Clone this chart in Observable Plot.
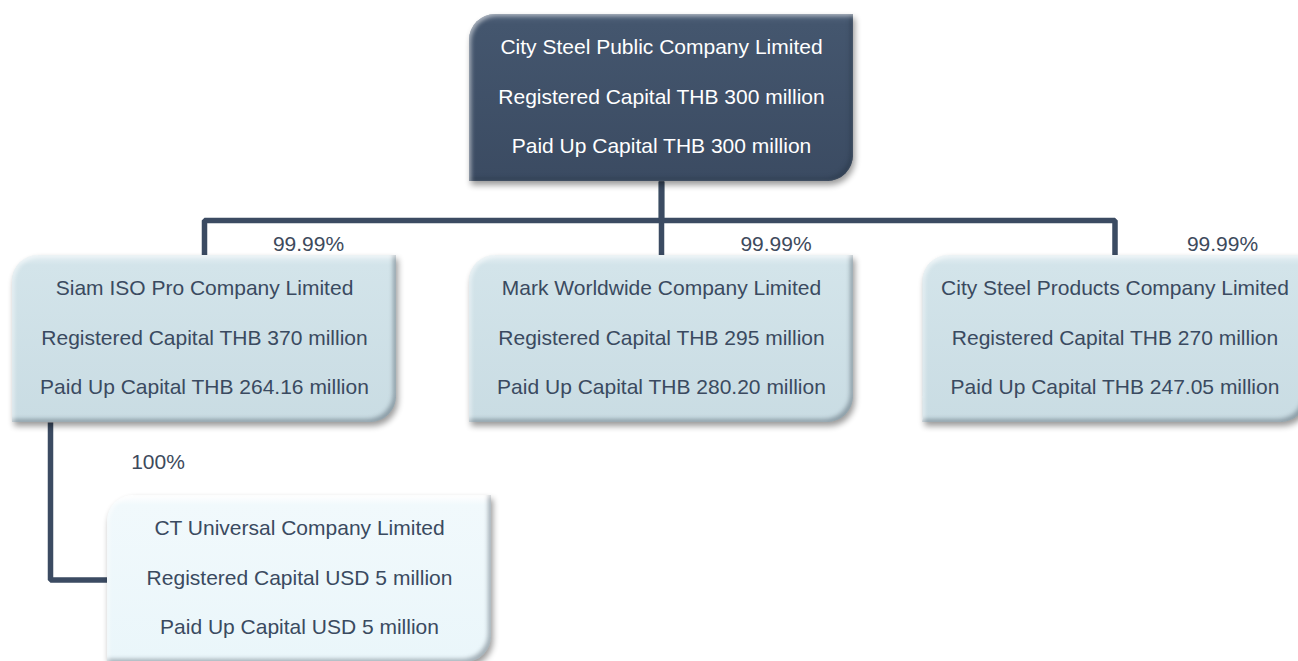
<!DOCTYPE html>
<html><head><meta charset="utf-8">
<script src="https://cdn.jsdelivr.net/npm/d3@7"></script>
<script src="https://cdn.jsdelivr.net/npm/@observablehq/plot@0.6"></script>
<style>html,body{margin:0;padding:0;background:#fff;overflow:hidden}</style>
</head><body><div id="chart"></div>
<script>
// ---- data ----
const companies = ["City Steel Public Company Limited", "Siam ISO Pro Company Limited", "Mark Worldwide Company Limited", "City Steel Products Company Limited", "CT Universal Company Limited"];
const registeredCapital = ["THB 300 million", "THB 370 million", "THB 295 million", "THB 270 million", "USD 5 million"];
const paidUpCapital = ["THB 300 million", "THB 264.16 million", "THB 280.20 million", "THB 247.05 million", "USD 5 million"];
const parentIndex = [null, 0, 0, 0, 1];
const ownership = [null, "99.99%", "99.99%", "99.99%", "100%"];
const tier = [0, 1, 1, 1, 2];

// ---- layout (pixel space) ----
const boxCenterX = [661, 204, 661, 1114.5, 299];
const tierTop = [14, 255, 495];
const boxW = 384, boxH = 167, cornerR = 26;
const busY = 220;            // horizontal connector level for tier 1
const sideX = 50;            // side connector x for tier 2
const labelX = [null, 308, 775.5, 1222, 157.5];
const labelY = [null, 244, 244, 244, 462];
const lineOffsets = [33, 83, 132];

const nodes = companies.map((name, i) => ({
  i, name, tier: tier[i],
  cx: boxCenterX[i],
  x1: boxCenterX[i] - boxW / 2, x2: boxCenterX[i] + boxW / 2,
  y1: tierTop[tier[i]], y2: tierTop[tier[i]] + boxH
}));

// square corners (top-right and bottom-left) -> "round diagonal corner" shape
const corners = nodes.flatMap(n => [
  {tier: n.tier, x1: n.x2 - cornerR, x2: n.x2, y1: n.y1, y2: n.y1 + cornerR},
  {tier: n.tier, x1: n.x1, x2: n.x1 + cornerR, y1: n.y2 - cornerR, y2: n.y2}
]);

const lines = nodes.flatMap(n => [
  {tier: n.tier, x: n.cx, y: n.y1 + lineOffsets[0], text: n.name},
  {tier: n.tier, x: n.cx, y: n.y1 + lineOffsets[1], text: "Registered Capital " + registeredCapital[n.i]},
  {tier: n.tier, x: n.cx, y: n.y1 + lineOffsets[2], text: "Paid Up Capital " + paidUpCapital[n.i]}
]);

const connectors = nodes.filter(n => parentIndex[n.i] !== null).flatMap(n => {
  const p = nodes[parentIndex[n.i]];
  if (n.tier === 1) {
    return [
      {id: n.i, x: p.cx, y: p.y2},
      {id: n.i, x: p.cx, y: busY},
      {id: n.i, x: n.cx, y: busY},
      {id: n.i, x: n.cx, y: n.y1}
    ];
  }
  const ym = (n.y1 + n.y2) / 2 + 1;
  return [
    {id: n.i, x: sideX, y: p.y2},
    {id: n.i, x: sideX, y: ym},
    {id: n.i, x: n.x1, y: ym}
  ];
});

const labels = nodes.filter(n => ownership[n.i] !== null).map(n => ({x: labelX[n.i], y: labelY[n.i], text: ownership[n.i]}));

const font = "Liberation Sans, Arial, Helvetica, sans-serif";
const tierFill = ["url(#g0)", "url(#g1)", "url(#g2)"];
const tierText = ["#ffffff", "#3a4a60", "#3a4a60"];

const marks = [
  Plot.line(connectors, {x: "x", y: "y", z: "id", stroke: "#3b4b62", strokeWidth: 5.5, strokeLinejoin: "miter", strokeLinecap: "butt", curve: "linear"})
];
for (let t = 0; t < 3; t++) {
  marks.push(Plot.rect(nodes.filter(n => n.tier === t), {x1: "x1", x2: "x2", y1: "y1", y2: "y2", rx: cornerR, fill: tierFill[t], ariaDescription: "box"}));
  marks.push(Plot.rect(corners.filter(c => c.tier === t), {x1: "x1", x2: "x2", y1: "y1", y2: "y2", fill: tierFill[t], ariaDescription: "box"}));
}
for (let t = 0; t < 3; t++) {
  marks.push(Plot.text(lines.filter(l => l.tier === t), {x: "x", y: "y", text: "text", fill: tierText[t], fontSize: 21, textAnchor: "middle", lineAnchor: "middle", fontFamily: font}));
}
marks.push(Plot.text(labels, {x: "x", y: "y", text: "text", fill: "#3d4a5c", fontSize: 21, textAnchor: "middle", lineAnchor: "middle", fontFamily: font}));

const svg = Plot.plot({
  width: 1298, height: 661,
  margin: 0,
  x: {domain: [0, 1298], range: [0, 1298], axis: null},
  y: {domain: [0, 661], range: [0, 661], axis: null},
  style: {background: "#ffffff", fontFamily: font, overflow: "hidden"},
  marks
});

// defs: gradients per tier (user space so that corner squares blend), bevel + drop shadow
const s = d3.select(svg);
const defs = s.insert("defs", ":first-child");
function grad(id, y1, y2, stops) {
  const g = defs.append("linearGradient").attr("id", id).attr("gradientUnits", "userSpaceOnUse")
    .attr("x1", 0).attr("x2", 0).attr("y1", y1).attr("y2", y2);
  stops.forEach(([o, c]) => g.append("stop").attr("offset", o).attr("stop-color", c));
}
grad("g0", tierTop[0], tierTop[0] + boxH, [[0, "#52637b"], [0.06, "#44566e"], [1, "#3b4b62"]]);
grad("g1", tierTop[1], tierTop[1] + boxH, [[0, "#e4eff3"], [0.06, "#d3e4ea"], [1, "#c9dce3"]]);
grad("g2", tierTop[2], tierTop[2] + boxH, [[0, "#ffffff"], [0.06, "#f1f9fc"], [1, "#eaf6fa"]]);

const filterSrc = `
<filter xmlns="http://www.w3.org/2000/svg" id="shadow" x="-5%" y="-10%" width="115%" height="130%" color-interpolation-filters="sRGB">
  <feGaussianBlur in="SourceAlpha" stdDeviation="2" result="blur"/>
  <feOffset in="blur" dx="-3" dy="-3" result="ob1"/>
  <feComposite in="SourceAlpha" in2="ob1" operator="arithmetic" k1="0" k2="1" k3="-1" k4="0" result="innerDark"/>
  <feFlood flood-color="#1c2a38" flood-opacity="0.35" result="darkC"/>
  <feComposite in="darkC" in2="innerDark" operator="in" result="darkEdge"/>
  <feOffset in="blur" dx="2" dy="2" result="ob2"/>
  <feComposite in="SourceAlpha" in2="ob2" operator="arithmetic" k1="0" k2="1" k3="-1" k4="0" result="innerLight"/>
  <feFlood flood-color="#ffffff" flood-opacity="0.55" result="lightC"/>
  <feComposite in="lightC" in2="innerLight" operator="in" result="lightEdge"/>
  <feGaussianBlur in="SourceAlpha" stdDeviation="3" result="sblur"/>
  <feOffset in="sblur" dx="2" dy="4" result="soff"/>
  <feComponentTransfer in="soff" result="shadowA"><feFuncA type="linear" slope="0.4"/></feComponentTransfer>
  <feMerge>
    <feMergeNode in="shadowA"/>
    <feMergeNode in="SourceGraphic"/>
    <feMergeNode in="darkEdge"/>
    <feMergeNode in="lightEdge"/>
  </feMerge>
</filter>`;
const doc = new DOMParser().parseFromString(`<svg xmlns="http://www.w3.org/2000/svg">${filterSrc}</svg>`, "image/svg+xml");
defs.node().appendChild(document.importNode(doc.documentElement.firstElementChild, true));

const boxGroups = s.selectAll('g[aria-description="box"]').nodes();
if (boxGroups.length) {
  const wrap = document.createElementNS("http://www.w3.org/2000/svg", "g");
  wrap.setAttribute("filter", "url(#shadow)");
  boxGroups[0].parentNode.insertBefore(wrap, boxGroups[0]);
  boxGroups.forEach(g => wrap.appendChild(g));
}

document.getElementById("chart").appendChild(svg);
</script>
</body></html>
